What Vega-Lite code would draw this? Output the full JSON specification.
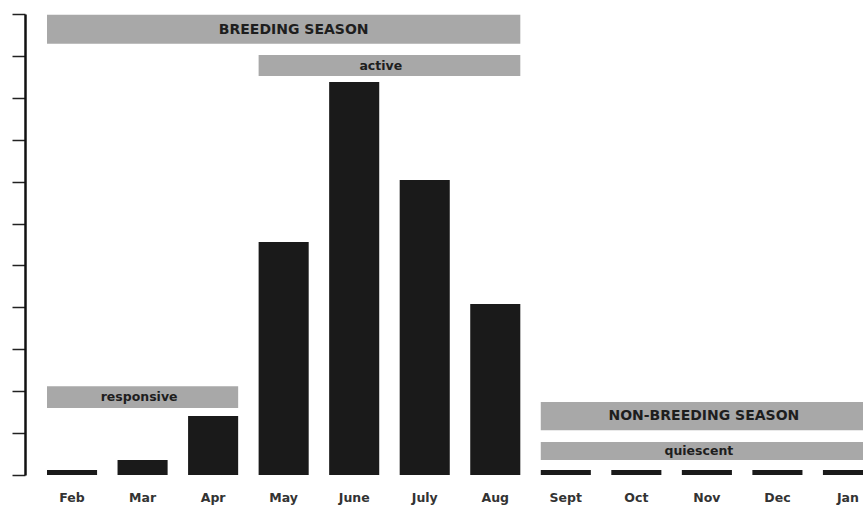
{
  "$schema": "https://vega.github.io/schema/vega-lite/v6.json",
  "width": 838,
  "height": 461,
  "autosize": "none",
  "padding": {"left": 25, "top": 14, "right": 0, "bottom": 31},
  "background": "white",
  "config": {"view": {"stroke": null}},
  "datasets": {
    "bars": [
      {"month": "Feb", "value": 0.12},
      {"month": "Mar", "value": 0.36},
      {"month": "Apr", "value": 1.41},
      {"month": "May", "value": 5.56},
      {"month": "June", "value": 9.38},
      {"month": "July", "value": 7.04},
      {"month": "Aug", "value": 4.08},
      {"month": "Sept", "value": 0.12},
      {"month": "Oct", "value": 0.12},
      {"month": "Nov", "value": 0.12},
      {"month": "Dec", "value": 0.12},
      {"month": "Jan", "value": 0.12}
    ],
    "spans": [
      {"label": "BREEDING SEASON", "start": "Feb", "end": "Aug", "lo": 10.29, "hi": 10.98},
      {"label": "active", "start": "May", "end": "Aug", "lo": 9.52, "hi": 10.02},
      {"label": "responsive", "start": "Feb", "end": "Apr", "lo": 1.6, "hi": 2.12},
      {"label": "NON-BREEDING SEASON", "start": "Sept", "end": "Jan", "lo": 1.07, "hi": 1.74},
      {"label": "quiescent", "start": "Sept", "end": "Jan", "lo": 0.36, "hi": 0.79}
    ]
  },
  "layer": [
    {
      "data": {"name": "bars"},
      "mark": {"type": "bar", "color": "#1a1a1a"},
      "encoding": {
        "x": {
          "field": "month", "type": "nominal", "title": null,
          "scale": {
            "domain": ["Feb", "Mar", "Apr", "May", "June", "July", "Aug", "Sept", "Oct", "Nov", "Dec", "Jan"],
            "range": [22, 848], "paddingInner": 0.29, "paddingOuter": 0
          },
          "axis": {
            "domain": false, "ticks": false, "labelAngle": 0, "labelPadding": 16,
            "labelFont": "DejaVu Sans", "labelFontSize": 12.5, "labelFontWeight": "bold", "labelColor": "#333333"
          }
        },
        "y": {
          "field": "value", "type": "quantitative", "title": null,
          "scale": {"domain": [0, 11], "nice": false, "zero": true},
          "axis": {
            "values": [0, 1, 2, 3, 4, 5, 6, 7, 8, 9, 10, 11],
            "labels": false, "grid": false, "domain": true, "domainColor": "#111111", "domainWidth": 2.5,
            "ticks": true, "tickSize": 13, "tickWidth": 1.5, "tickColor": "#222222"
          }
        }
      }
    },
    {
      "data": {"name": "spans"},
      "mark": {"type": "rect", "color": "#a8a8a8"},
      "encoding": {
        "x": {"field": "start", "type": "nominal", "bandPosition": 0},
        "x2": {"field": "end", "bandPosition": 1},
        "y": {"field": "lo", "type": "quantitative"},
        "y2": {"field": "hi"}
      }
    },
    {
      "data": {"values": [{"label": "BREEDING SEASON", "month": "May", "y": 10.63}]},
      "mark": {"type": "text", "font": "DejaVu Sans", "fontSize": 14, "fontWeight": "bold", "color": "#1e1e1e", "baseline": "middle"},
      "encoding": {
        "x": {"field": "month", "type": "nominal", "bandPosition": 0.7},
        "y": {"field": "y", "type": "quantitative"},
        "text": {"field": "label"}
      }
    },
    {
      "data": {"values": [{"label": "active", "month": "June", "y": 9.77}]},
      "mark": {"type": "text", "font": "DejaVu Sans", "fontSize": 12.5, "fontWeight": "bold", "color": "#1e1e1e", "baseline": "middle"},
      "encoding": {
        "x": {"field": "month", "type": "nominal", "bandPosition": 1.03},
        "y": {"field": "y", "type": "quantitative"},
        "text": {"field": "label"}
      }
    },
    {
      "data": {"values": [{"label": "responsive", "month": "Mar", "y": 1.86}]},
      "mark": {"type": "text", "font": "DejaVu Sans", "fontSize": 12.5, "fontWeight": "bold", "color": "#1e1e1e", "baseline": "middle"},
      "encoding": {
        "x": {"field": "month", "type": "nominal", "bandPosition": 0.43},
        "y": {"field": "y", "type": "quantitative"},
        "text": {"field": "label"}
      }
    },
    {
      "data": {"values": [{"label": "NON-BREEDING SEASON", "month": "Nov", "y": 1.41}]},
      "mark": {"type": "text", "font": "DejaVu Sans", "fontSize": 14, "fontWeight": "bold", "color": "#1e1e1e", "baseline": "middle"},
      "encoding": {
        "x": {"field": "month", "type": "nominal", "bandPosition": 0.44},
        "y": {"field": "y", "type": "quantitative"},
        "text": {"field": "label"}
      }
    },
    {
      "data": {"values": [{"label": "quiescent", "month": "Nov", "y": 0.57}]},
      "mark": {"type": "text", "font": "DejaVu Sans", "fontSize": 12.5, "fontWeight": "bold", "color": "#1e1e1e", "baseline": "middle"},
      "encoding": {
        "x": {"field": "month", "type": "nominal", "bandPosition": 0.34},
        "y": {"field": "y", "type": "quantitative"},
        "text": {"field": "label"}
      }
    }
  ]
}
